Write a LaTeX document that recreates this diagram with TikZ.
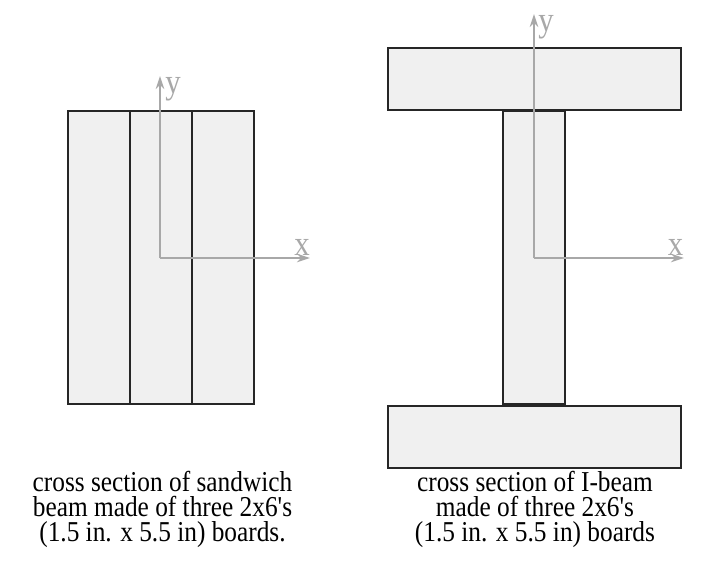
\documentclass[tikz,border=0pt]{standalone}
\usepackage{fontspec}
\setmainfont[FakeStretch=0.88,Ligatures=TeXOff]{Liberation Serif}
\usetikzlibrary{arrows.meta}
\definecolor{boardfill}{HTML}{F0F0F0}
\definecolor{axisgray}{HTML}{A8A8A8}
\tikzset{
	board/.style={rectangle,draw=black!85,fill=boardfill,line width=1.2pt,inner sep=0pt,outer sep=0pt},
	axis/.style={draw=axisgray,line width=1.5pt,-{Stealth[length=13pt,width=8.5pt]}},
	axislabel/.style={text=axisgray,font=\fontsize{35}{35}\selectfont,inner sep=0pt,anchor=base},
	caption/.style={align=center,font=\fontsize{28.8}{25}\selectfont,inner sep=0pt,anchor=base}
}
\begin{document}
\begin{tikzpicture}[x=1pt,y=-1pt]
	\useasboundingbox (0,0) rectangle (718,562);
	% sandwich
	\node[board,minimum width=62pt,minimum height=293pt] (s1) at (99,257.5) {};
	\node[board,minimum width=62pt,minimum height=293pt] (s2) at (161,257.5) {};
	\node[board,minimum width=62pt,minimum height=293pt] (s3) at (223,257.5) {};
	% I-beam
	\node[board,minimum width=293pt,minimum height=62pt] (top) at (534.5,79) {};
	\node[board,minimum width=62pt,minimum height=293pt] (web) at (534,257.5) {};
	\node[board,minimum width=293pt,minimum height=62pt] (bot) at (534.5,437) {};
	% axes
	\coordinate (o1) at (160,258);
	\coordinate (y1) at (160,76);
	\coordinate (x1) at (310,258);
	\coordinate (o2) at (534,258);
	\coordinate (y2) at (534,14);
	\coordinate (x2) at (684,258);
	\draw[axis] (o1) -- (y1);
	\draw[axis] (o1) -- (x1);
	\draw[axis] (o2) -- (y2);
	\draw[axis] (o2) -- (x2);
	\node[axislabel] (ly1) at (173,93) {y};
	\node[axislabel] (lx1) at (302,255) {x};
	\node[axislabel] (ly2) at (546,31) {y};
	\node[axislabel] (lx2) at (675.5,255) {x};
	% captions
	\node[caption] (c1) at (162.5,541) {cross section of sandwich\\beam made of three 2x6's\\(1.5 in. x 5.5 in) boards.};
	\node[caption] (c2) at (535,541) {cross section of I-beam\\made of three 2x6's\\(1.5 in. x 5.5 in) boards};
\end{tikzpicture}
\end{document}
